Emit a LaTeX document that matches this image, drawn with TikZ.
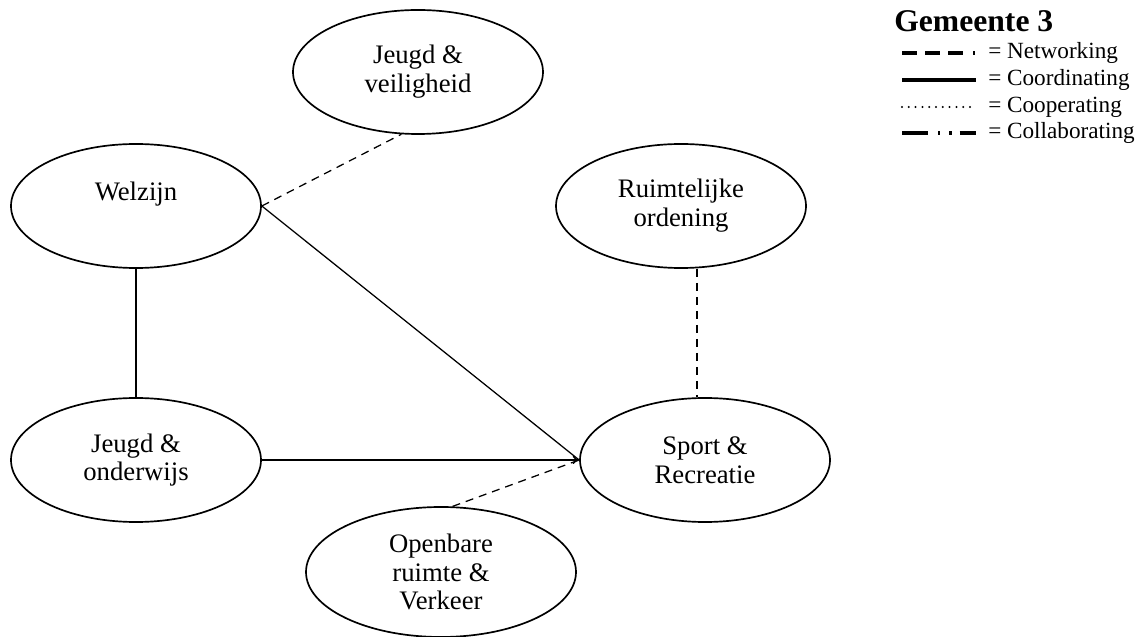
\documentclass[tikz,border=0pt]{standalone}
\usepackage{fontspec}
\setmainfont{Liberation Serif}
\usetikzlibrary{positioning,arrows.meta,shapes.geometric}

\begin{document}
\begin{tikzpicture}[
  beleid/.style={draw, ellipse, line width=1.2pt, minimum width=6.25cm, minimum height=3.1cm,
                 align=center, font=\fontsize{19}{20.5}\selectfont, inner sep=0pt},
  netwerk/.style={dashed, dash pattern=on 0.2cm off 0.15cm, line width=0.9pt},
  coord/.style={line width=0.9pt},
  pijl/.style={coord, -{To[length=1.6mm, width=2mm]}},
  legenda/.style={anchor=west, inner sep=0pt, font=\fontsize{16.5}{18}\selectfont}
]
  \useasboundingbox (0,0) rectangle (28.575,15.9);

  \node[beleid] (veil) at (10.45,14.1) {Jeugd \&\\veiligheid};
  \node[beleid] (welz) at (3.4,10.75) {Welzijn\\~};
  \node[beleid] (ruim) at (17.025,10.75) {Ruimtelijke\\ordening};
  \node[beleid] (onder) at (3.4,4.4) {Jeugd \&\\onderwijs};
  \node[beleid] (sport) at (17.625,4.4) {Sport \&\\Recreatie};
  \node[beleid, minimum width=6.75cm, minimum height=3.25cm] (open) at (11.025,1.6)
    {Openbare\\ruimte \&\\Verkeer};

  \draw[netwerk] (welz.east) -- (veil.255);
  \draw[coord] (welz.east) -- (sport.west);
  \draw[coord] (welz.south) -- (onder.north);
  \draw[pijl] (onder.east) -- (sport.west);
  \draw[netwerk] ([xshift=0.4cm]ruim.south) -- ([xshift=0.4cm]ruim.south |- sport.north);
  \draw[netwerk] (open.80) -- (sport.west);

  \node[anchor=west, inner sep=0pt, font=\fontsize{22.5}{24}\bfseries] (titel) at (22.35,15.375) {Gemeente 3};
  \node[legenda] (l1) at (24.7,14.575) {= Networking};
  \node[legenda] (l2) at (24.7,13.9) {= Coordinating};
  \node[legenda] (l3) at (24.7,13.225) {= Cooperating};
  \node[legenda] (l4) at (24.7,12.575) {= Collaborating};

  \coordinate (s1) at (22.55,14.575);
  \coordinate (s2) at (22.55,13.9);
  \coordinate (s3) at (22.55,13.225);
  \coordinate (s4) at (22.55,12.575);
  \draw[line width=2.6pt, dash pattern=on 0.375cm off 0.2cm on 0.375cm off 0.2cm on 0.375cm off 0.25cm on 0.05cm off 1cm]
    (s1) -- (s1 -| 24.4,0);
  \draw[line width=2.8pt] (s2) -- (s2 -| 24.4,0);
  \draw[line width=1.6pt, line cap=round, dash pattern=on 0pt off 0.17cm] (s3) -- (s3 -| 24.3,0);
  \draw[line width=2.6pt, dash pattern=on 0.65cm off 0.25cm on 0.06cm off 0.22cm on 0.06cm off 0.2cm on 0.42cm off 1cm]
    (s4) -- (s4 -| 24.4,0);
\end{tikzpicture}
\end{document}
